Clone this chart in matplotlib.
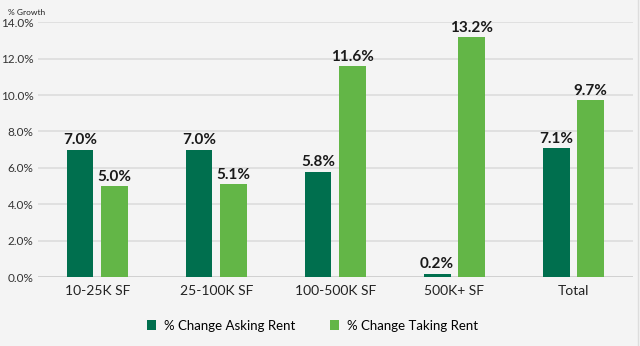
import numpy as np
import matplotlib.pyplot as plt
from matplotlib.lines import Line2D

categories = ['10-25K SF', '25-100K SF', '100-500K SF', '500K+ SF', 'Total']
asking = [7.0, 7.0, 5.8, 0.2, 7.1]
taking = [5.0, 5.1, 11.6, 13.2, 9.7]
series_names = ['% Change Asking Rent', '% Change Taking Rent']
yticks = [0, 2, 4, 6, 8, 10, 12, 14]

dark = '#006f4e'
light = '#63b647'
bg = '#f4f4f4'

plt.rcParams['font.family'] = ['Lato', 'DejaVu Sans']

fig = plt.figure(figsize=(6.4, 3.46), dpi=100, facecolor=bg)
ax = fig.add_axes([0.059, 0.199, 0.93, 0.737], facecolor=bg)

x = np.arange(len(categories))
w = 0.225
off = 0.145
b1 = ax.bar(x - off, asking, w, color=dark, label=series_names[0], zorder=3)
b2 = ax.bar(x + off, taking, w, color=light, label=series_names[1], zorder=3)

for bars, vals in ((b1, asking), (b2, taking)):
    for b, v in zip(bars, vals):
        ax.text(b.get_x() + b.get_width() / 2, v + 0.12, f'{v:.1f}%',
                ha='center', va='bottom', fontsize=11, fontweight='bold',
                color='#1a1a1a')

ax.set_xlim(-0.5, 4.5)
ax.set_ylim(0, 14)
ax.set_yticks(yticks)
ax.set_yticklabels([f'{t:.1f}%' for t in yticks], fontsize=8.5, color='#333333')
ax.set_xticks(x)
ax.set_xticklabels(categories, fontsize=10, color='#222222')
ax.tick_params(length=0, pad=3)
ax.tick_params(axis='x', pad=6)
ax.grid(axis='y', color='#dcdcdc', linewidth=1.2, zorder=0)
for s in ax.spines.values():
    s.set_visible(False)
ax.axhline(0, color='#cfcfcf', linewidth=1.2, zorder=2)

fig.text(0.012, 0.975, '% Growth', fontsize=6, color='#222222', va='top')
fig.add_artist(Line2D([0.997, 0.997], [0, 1], color='#dddddd', linewidth=1,
                      transform=fig.transFigure))

ax.legend(loc='upper center', bbox_to_anchor=(0.462, -0.12), ncol=2,
          frameon=False, fontsize=9.5, handlelength=0.7, handleheight=0.7,
          columnspacing=2.6, handletextpad=0.6)

fig.savefig('out.png', dpi=100, facecolor=bg)
